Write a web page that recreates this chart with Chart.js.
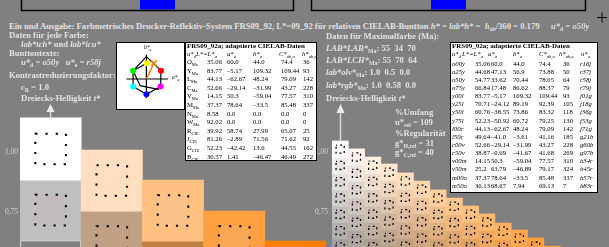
<!DOCTYPE html>
<html lang="de">
<head>
<meta charset="UTF-8">
<title>FRS09_92 Buntton o50y</title>
<script src="https://cdn.jsdelivr.net/npm/chart.js"></script>
<style>
  body { margin:0; width:609px; height:247px; background:#808080; position:relative; overflow:hidden;
         font-family:"Liberation Serif","DejaVu Serif",serif; }
  .t { position:absolute; white-space:nowrap; color:#e2e2e2; font-weight:bold; font-size:8.6px; line-height:10px; z-index:3; }
  .box { position:absolute; background:#fff; border:1.5px solid #000; box-sizing:border-box; z-index:2; }
  .c { position:absolute; white-space:nowrap; color:#000; font-size:6.7px; line-height:8px; z-index:4; }
  .c.b { font-weight:bold; font-size:7px; }
  sub { font-size:68%; vertical-align:-1.5px; line-height:0; }
  canvas { position:absolute; z-index:1; }
  svg { position:absolute; left:0; top:0; z-index:0; }
</style>
</head>
<body>
<svg width="609" height="247">
  <path d="M21.5 0 V10.5 H293.5 V0" fill="none" stroke="#000" stroke-width="1.5"/>
  <rect x="140" y="0" width="35" height="9.5" fill="#0000ff"/>
  <path d="M311.5 0 V10.5 H585.5 V0" fill="none" stroke="#000" stroke-width="1.5"/>
  <rect x="431" y="0" width="35" height="9.5" fill="#0000ff"/>
  <path d="M597 17.5 H607 M602 12.5 V22.5" stroke="#000" stroke-width="1"/>
  <path d="M50.5 111 V118" stroke="#d8d8d8" stroke-width="1.5"/>
  <path d="M46.5 112 L54.5 112 L50.5 104 Z" fill="#ececec"/>
  <path d="M340.5 111 V141" stroke="#d8d8d8" stroke-width="1.5"/>
  <path d="M336.5 113 L344.5 113 L340.5 104 Z" fill="#ececec"/>
</svg>

<div class="t" style="left:9px;top:21px">Ein und Ausgabe: Farbmetrisches Drucker-Reflektiv-System FRS09_92, L*=09_92 für relativen CIELAB-Buntton <i>h* = lab*h* = &nbsp;h</i><sub>ab</sub>/360 = 0.179</div>
<div class="t" style="left:551px;top:21px"><i>u*</i><sub>d</sub> = <i>o50y</i></div>

<div class="t" style="left:9px;top:30px">Daten für jede Farbe:</div>
<div class="t" style="left:21px;top:39px"><i>lab*tch*</i> und <i>lab*icu*</i></div>
<div class="t" style="left:9px;top:48px">Bunttontexte:</div>
<div class="t" style="left:21px;top:57px"><i>u*</i><sub>d</sub> <i>= o50y &nbsp;&nbsp;u*</i><sub>e</sub> <i>= r58j</i></div>
<div class="t" style="left:9px;top:70px">Kontrastreduzierungsfaktor:</div>
<div class="t" style="left:21px;top:82px"><i>c</i><sub>R</sub> = 1.0</div>
<div class="t" style="left:21px;top:93px">Dreiecks-Helligkeit <i>t*</i></div>

<div class="t" style="left:326px;top:31px">Daten für Maximalfarbe (Ma):</div>
<div class="t" style="left:326px;top:43px"><i>LAB*LAB*</i><sub>Ma</sub>: 55 &nbsp;34 &nbsp;70</div>
<div class="t" style="left:326px;top:55px"><i>LAB*LCH*</i><sub>Ma</sub>: 55 &nbsp;78 &nbsp;64</div>
<div class="t" style="left:326px;top:67px"><i>lab*olv*</i><sub>Ma</sub>: 1.0 &nbsp;0.5 &nbsp;0.0</div>
<div class="t" style="left:326px;top:80px"><i>lab*rgb*</i><sub>Ma</sub>: 1.0 &nbsp;0.58 &nbsp;0.0</div>
<div class="t" style="left:326px;top:93px">Dreiecks-Helligkeit <i>t*</i></div>
<div class="t" style="left:395px;top:107px">%Umfang</div>
<div class="t" style="left:395px;top:117px">u*<sub>rel</sub> = 109</div>
<div class="t" style="left:395px;top:128px">%Regularität</div>
<div class="t" style="left:395px;top:138px">g*<sub>H,rel</sub> = 31</div>
<div class="t" style="left:395px;top:147px">g*<sub>C,rel</sub> = 40</div>

<div class="box" style="left:116px;top:42px;width:69px;height:68px"></div>
<canvas id="hexChart" width="66" height="65" style="left:117.5px;top:43.5px;z-index:3"></canvas>
<div class="c" style="left:144px;top:43px;font-size:5.5px;font-style:italic">b*<sub>a</sub></div>
<div class="c" style="left:172px;top:73px;font-size:5.5px;font-style:italic">a*<sub>a</sub></div>

<div class="box" style="left:185px;top:42px;width:132px;height:119px"></div>
<div class="box" style="left:450px;top:42px;width:148px;height:151px"></div>
<div id="tables"></div>

<canvas id="stairChart" width="330" height="143" style="left:0;top:104px"></canvas>
<canvas id="triChart" width="309" height="117" style="left:300px;top:130px"></canvas>

<script>
// ---------- data ----------
// left staircase: chroma steps 0 .. 1 (Dreiecks-Helligkeit t*), floating cells [low, high]
const stairSteps = ['0.00', '0.25', '0.50', '0.75', '1.00'];
const stairUpper = [[0.883, 1.142], [0.754, 1.008], [0.629, 0.883], [0.500, 0.754], [0.375, 0.629]];
const stairMiddle = [[0.633, 0.883], [0.500, 0.754], [0.375, 0.629], null, null];
const stairLower = [[0.379, 0.633], null, null, null, null];
const yTicks = [0.75, 1.00];

// right triangle: 17 chroma steps, top edge of each visible column
const triSteps = ['0', '1', '2', '3', '4', '5', '6', '7', '8', '9', '10', '11', '12', '13', '14', '15', '16'];
const triTop = [1.046, 1.013, 0.979, 0.950, 0.913, 0.879, 0.842, 0.808, 0.775, 0.742, 0.704, 0.675, 0.642, 0.608];
const triCell = 0.068;

// hue diagram (schematic a*, b*)
const hexDotX = [0.5, 17.5, 17, 0, -16, -16];
const hexDotY = [19, 10, -9, -18.5, -9, 10];
const hexOuterX = [0, 17.5, 17, 0, -16, -16, 0];
const hexOuterY = [27, 10, -9, -18.5, -9, 10, 27];
const hexInnerX = [0.5, -16, -7.5, 14, 17];
const hexInnerY = [19, 10, -8, -12.5, -9];
const hueX = [0, 9];
const hueY = [0, 19];

// tables
const tab1Rows = [
  ['O<sub>Ma</sub>', '35.06', '60.0', '44.0', '74.4', '36'],
  ['Y<sub>Ma</sub>', '83.77', '–5.17', '109.32', '109.44', '93'],
  ['L<sub>Ma</sub>', '44.13', '–62.67', '48.24', '79.09', '142'],
  ['C<sub>Ma</sub>', '52.66', '–29.14', '–31.99', '43.27', '228'],
  ['V<sub>Ma</sub>', '14.15', '50.3', '–59.04', '77.57', '310'],
  ['M<sub>Ma</sub>', '37.37', '78.64', '–33.5', '85.48', '337'],
  ['N<sub>Ma</sub>', '8.58', '0.0', '0.0', '0.0', '0'],
  ['W<sub>Ma</sub>', '92.02', '0.0', '0.0', '0.0', '0'],
  ['R<sub>CIE</sub>', '39.92', '58.74', '27.99', '65.07', '25'],
  ['J<sub>CIE</sub>', '81.26', '–2.89', '71.56', '71.62', '92'],
  ['G<sub>CIE</sub>', '52.23', '–42.42', '13.6', '44.55', '162'],
  ['B<sub>CIE</sub>', '30.57', '1.41', '–46.47', '46.49', '272']
];
const tab2Rows = [
  ['o00y', '35.06', '60.0', '44.0', '74.4', '36', 'r16j'],
  ['o25y', '44.68', '47.13', '56.9', '73.88', '50', 'r37j'],
  ['o50y', '54.77', '33.62', '70.44', '78.05', '64', 'r58j'],
  ['o75y', '66.84', '17.48', '86.62', '88.37', '79', 'r79j'],
  ['y00l', '83.77', '–5.17', '109.32', '109.44', '93', 'j01g'],
  ['y25l', '70.71', '–24.12', '89.19', '92.39', '105', 'j18g'],
  ['y50l', '60.76', '–38.55', '73.86', '83.32', '118', 'j36g'],
  ['y75l', '52.23', '–50.92', '60.72', '79.25', '130', 'j53g'],
  ['l00c', '44.13', '–62.67', '48.24', '79.09', '142', 'j71g'],
  ['l50c', '49.64', '–41.0', '–3.61', '41.16', '185', 'g21b'],
  ['c00v', '52.66', '–29.14', '–31.99', '43.27', '228', 'g60b'],
  ['c50v', '38.87', '–0.69', '–41.67', '41.68', '269', 'g97b'],
  ['v00m', '14.15', '50.3', '–59.04', '77.57', '310', 'b34r'],
  ['v50m', '25.2', '63.79', '–46.89', '79.17', '324', 'b45r'],
  ['m00o', '37.37', '78.64', '–33.5', '85.48', '337', 'b57r'],
  ['m50o', '36.13', '68.67', '7.94', '69.13', '7', 'b83r']
];
const tabTitle = 'FRS09_92a; adaptierte CIELAB-Daten';
const tab1Head = ['u*<sub>d</sub>', 'L*=L*<sub>a</sub>', 'a*<sub>a</sub>', 'b*<sub>a</sub>', 'C*<sub>ab,a</sub>', 'h*<sub>ab,a</sub>'];
const tab2Head = ['u*<sub>d</sub>', 'L*=L*<sub>a</sub>', 'a*<sub>a</sub>', 'b*<sub>a</sub>', 'C*<sub>ab,a</sub>', 'h*<sub>ab,a</sub>', 'u*<sub>a</sub>'];

// ---------- tables ----------
const tabHost = document.getElementById('tables');
function put(x, yc, html, cls, italic) {
  const d = document.createElement('div');
  d.className = 'c' + (cls ? ' ' + cls : '');
  d.style.left = x + 'px';
  d.style.top = (yc - 4) + 'px';
  if (italic) d.style.fontStyle = 'italic';
  d.innerHTML = html;
  tabHost.appendChild(d);
}
const tab1X = [187, 207, 227, 253, 281, 303];
const tab1HeadX = [187, 196, 227, 253, 279, 302];
put(187, 45.5, tabTitle, 'b');
tab1Head.forEach((h, i) => put(tab1HeadX[i], 53.5, h, '', true));
tab1Rows.forEach((r, j) => r.forEach((v, i) => put(tab1X[i], 62 + 8.6 * j, v)));

const tab2X = [452, 475, 491, 513, 539, 563, 580];
const tab2HeadX = [452, 462, 488, 513, 539, 559, 581];
put(452, 45.5, tabTitle, 'b');
tab2Head.forEach((h, i) => put(tab2HeadX[i], 53.5, h, '', true));
tab2Rows.forEach((r, j) => r.forEach((v, i) => put(tab2X[i], 63.5 + 8.15 * j, v, '', i === 0 || i === 6)));

// ---------- colours (white / black / orange mix) ----------
function mixColor(c, n) {
  const r = 255 * (1 - n), g = 255 * (1 - n) - 127 * c, b = 255 * (1 - n - c);
  return [r, g, b];
}
function rgb(a) { return 'rgb(' + a.map(v => Math.round(Math.max(0, v))).join(',') + ')'; }
function innerOf(a, n) {
  if (n === 0) return rgb(a);
  const t = [205, 165, 160];
  return rgb(a.map((v, i) => v * 0.86 + t[i] * 0.14));
}

// ---------- plugin: dotted inner squares ----------
const innerSquares = {
  id: 'innerSquares',
  afterDatasetsDraw(chart, args, opts) {
    const ctx = chart.ctx, area = chart.chartArea;
    chart.data.datasets.forEach((ds, i) => {
      if (!ds.inner) return;
      chart.getDatasetMeta(i).data.forEach((bar, j) => {
        if (ds.data[j] == null) return;
        const p = bar.getProps(['x', 'y', 'base', 'width'], true);
        const s = p.width / 2;
        const cx = p.x, cy = (p.y + p.base) / 2;
        ctx.save();
        ctx.beginPath();
        ctx.rect(area.left, area.top, area.right - area.left, area.bottom - area.top);
        ctx.clip();
        ctx.fillStyle = ds.inner[j];
        ctx.fillRect(cx - s / 2, cy - s / 2, s, s);
        ctx.setLineDash(opts.dash);
        ctx.lineDashOffset = opts.offset || 0;
        ctx.lineWidth = opts.width;
        ctx.strokeStyle = '#000';
        ctx.strokeRect(cx - s / 2, cy - s / 2, s, s);
        ctx.restore();
      });
    });
  }
};

Chart.defaults.font.family = '"Liberation Serif", serif';

function yAxis(min, max, w, pad) {
  return {
    type: 'linear', position: 'left', min: min, max: max,
    grid: { display: false, drawTicks: false }, border: { display: false },
    afterBuildTicks: s => { s.ticks = yTicks.map(v => ({ value: v })); },
    afterFit: s => { s.width = w; s.paddingTop = 0; s.paddingBottom = 0; },
    ticks: { padding: pad, color: '#d4d4d4', font: { size: 7.5 },
             callback: v => v.toFixed(2).replace('.', ',') }
  };
}

// ---------- left staircase ----------
const c4 = stairSteps.map((_, k) => k / 4);
new Chart(document.getElementById('stairChart'), {
  type: 'bar',
  data: {
    labels: stairSteps,
    datasets: [
      { data: stairUpper, backgroundColor: c4.map(c => rgb(mixColor(c, 0))),
        inner: c4.map((c, k) => k < 2 ? rgb(mixColor(c, 0)) : rgb(mixColor(c, 0).map((v, i) => v * 0.8 + [230, 200, 170][i] * 0.2))) },
      { data: stairMiddle, backgroundColor: c4.map(c => rgb(mixColor(c, 0.25))),
        inner: c4.map(c => innerOf(mixColor(c, 0.25), 0.25)) },
      { data: stairLower, backgroundColor: '#808080', borderColor: '#d4d4d4', borderWidth: 1.5, borderSkipped: false }
    ]
  },
  options: {
    responsive: false, animation: false, events: [],
    layout: { padding: { left: 0, right: 4, top: 0, bottom: 0 } },
    datasets: { bar: { grouped: false, barPercentage: 1, categoryPercentage: 1 } },
    plugins: { legend: { display: false }, tooltip: { enabled: false },
               innerSquares: { dash: [2.2, 8], width: 2, offset: 0 } },
    scales: { x: { display: false }, y: yAxis(0.6042, 1.2, 20, 2) }
  },
  plugins: [innerSquares]
});

// ---------- right triangle ----------
const triDatasets = [];
for (let r = 0; r < triSteps.length; r++) {
  const data = [], bg = [], inner = [];
  triSteps.forEach((_, k) => {
    const top = triTop[k];
    const ok = top !== undefined && k + r <= 16;
    data.push(ok ? [top - (r + 1) * triCell, top - r * triCell] : null);
    const col = mixColor(k / 16, r / 16);
    bg.push(rgb(col));
    inner.push(innerOf(col, r));
  });
  triDatasets.push({ data: data, backgroundColor: bg, inner: inner });
}
new Chart(document.getElementById('triChart'), {
  type: 'bar',
  data: { labels: triSteps, datasets: triDatasets },
  options: {
    responsive: false, animation: false, events: [],
    layout: { padding: 0 },
    datasets: { bar: { grouped: false, barPercentage: 1, categoryPercentage: 1 } },
    plugins: { legend: { display: false }, tooltip: { enabled: false },
               innerSquares: { dash: [2, 3], width: 1.3, offset: 1 } },
    scales: { x: { display: false }, y: yAxis(0.6042, 1.0917, 32, 4) }
  },
  plugins: [innerSquares]
});

// ---------- hue diagram ----------
const pts = (xs, ys) => xs.map((x, i) => ({ x: x, y: ys[i] }));
new Chart(document.getElementById('hexChart'), {
  type: 'scatter',
  data: {
    datasets: [
      { data: pts(hexDotX, hexDotY), pointRadius: 3, pointBorderWidth: 0,
        pointBackgroundColor: ['#ffff00', '#ff0000', '#ff00ff', '#0000ff', '#00ffff', '#00ff00'], order: 0 },
      { data: pts(hueX, hueY), showLine: true, borderColor: '#ff8000', borderWidth: 1.5,
        pointRadius: [0, 4], pointStyle: 'crossRot', pointBorderColor: '#ff8000', pointBorderWidth: 1.5, order: 1 },
      { data: pts(hexOuterX, hexOuterY), showLine: true, borderColor: '#000', borderWidth: 1.2, pointRadius: 0, order: 2 },
      { data: pts(hexInnerX, hexInnerY), showLine: true, borderColor: '#000', borderWidth: 1.2, pointRadius: 0, order: 3 },
      { data: [{ x: -24, y: 0 }, { x: 26, y: 0 }], showLine: true, borderColor: '#000', borderWidth: 1, pointRadius: 0, order: 4 },
      { data: [{ x: 0, y: 29 }, { x: 0, y: -23 }], showLine: true, borderColor: '#000', borderWidth: 1, pointRadius: 0, order: 5 }
    ]
  },
  options: {
    responsive: false, animation: false, events: [],
    layout: { padding: 0 },
    plugins: { legend: { display: false }, tooltip: { enabled: false } },
    scales: { x: { display: false, min: -27.5, max: 38.5 }, y: { display: false, min: -29.5, max: 35.5 } }
  }
});
</script>
</body>
</html>
